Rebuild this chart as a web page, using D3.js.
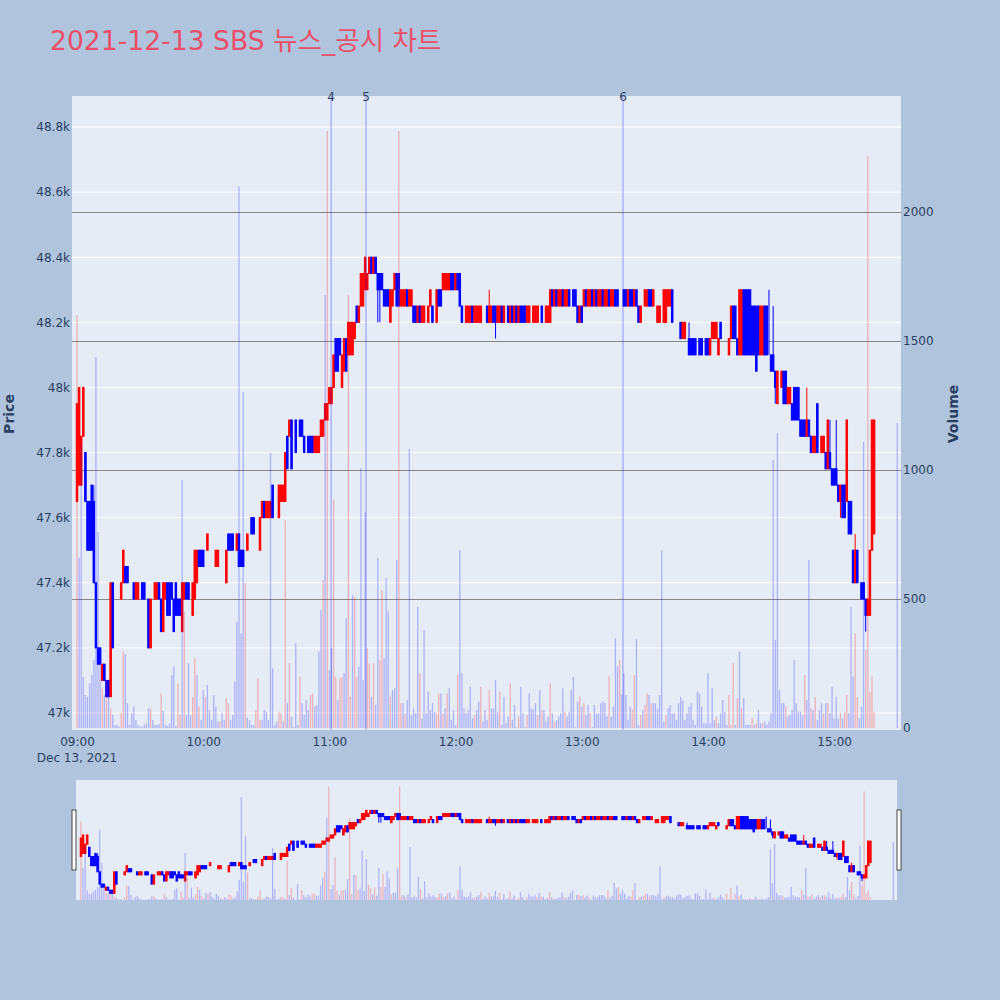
<!DOCTYPE html>
<html><head><meta charset="utf-8">
<script src="https://cdn.jsdelivr.net/npm/d3@7"></script>
<style>body{margin:0;background:#b0c4de;}svg{display:block}</style>
</head><body>
<svg id="chart" width="1000" height="1000"></svg>
<script>
// ---------- DATA (1-minute candles 09:00..15:19, plus 15:30 closing auction) ----------
const sessionDate = "2021-12-13";
const closingAuctionTime = "15:30";
const opens = [
47650,47700,47700,47850,47800,47650,47650,47700,47650,47400,
47200,47200,47100,47150,47100,47100,47050,47400,47300,47300,
47300,47350,47400,47450,47450,47400,47400,47400,47350,47350,
47350,47400,47400,47350,47350,47200,47350,47350,47350,47400,
47350,47250,47350,47400,47400,47400,47350,47400,47350,47350,
47250,47350,47400,47400,47350,47300,47350,47400,47500,47500,
47500,47450,47500,47500,47450,47450,47450,47450,47450,47400,
47400,47400,47550,47550,47550,47500,47500,47550,47500,47500,
47450,47500,47550,47600,47600,47500,47500,47500,47600,47650,
47600,47600,47600,47700,47600,47600,47600,47650,47650,47650,
47850,47850,47900,47850,47900,47850,47900,47900,47850,47850,
47850,47850,47850,47800,47800,47800,47850,47850,47900,47900,
47950,47950,48000,48150,48150,48150,48000,48050,48150,48100,
48100,48100,48150,48250,48200,48250,48250,48300,48300,48350,
48400,48350,48400,48350,48350,48350,48300,48300,48300,48200,
48250,48300,48350,48350,48250,48250,48250,48300,48250,48250,
48250,48250,48200,48250,48200,48200,48250,48200,48250,48250,
48250,48200,48300,48300,48300,48300,48300,48300,48350,48350,
48300,48350,48350,48250,48200,48200,48200,48200,48250,48200,
48200,48200,48200,48250,48250,48250,48200,48200,48250,48250,
48200,48200,48250,48200,48250,48250,48200,48250,48200,48250,
48200,48250,48250,48250,48200,48200,48250,48200,48200,48200,
48250,48250,48250,48200,48200,48200,48300,48250,48300,48250,
48250,48300,48250,48250,48300,48300,48300,48300,48250,48200,
48250,48250,48300,48250,48250,48300,48250,48300,48250,48250,
48300,48250,48250,48300,48250,48250,48300,48300,48300,48350,
48300,48300,48250,48300,48300,48250,48300,48250,48200,48250,
48250,48250,48300,48300,48250,48250,48200,48200,48250,48200,
48200,48250,48250,48300,48200,48200,48200,48200,48150,48150,
48200,48150,48150,48150,48150,48100,48150,48150,48100,48150,
48150,48100,48150,48150,48150,48100,48200,48100,48100,48100,
48100,48150,48250,48250,48150,48100,48100,48300,48300,48300,
48300,48250,48250,48250,48250,48100,48100,48250,48250,48100,
48100,48100,48050,47950,48050,48000,48050,48050,47950,47950,
47950,48000,48000,48000,47900,47900,47900,47850,47900,47850,
47800,47800,47950,47800,47800,47800,47800,47750,47800,47750,
47750,47750,47700,47650,47700,47700,47650,47650,47650,47500,
47400,47500,47400,47400,47400,47350,47300,47300,47500,47550,
47900];
const closes = [
47950,48000,47850,48000,47650,47500,47500,47500,47400,47200,
47150,47150,47150,47100,47050,47050,47400,47200,47300,47300,
47300,47400,47500,47400,47400,47400,47400,47350,47400,47400,
47350,47350,47350,47350,47200,47350,47350,47400,47400,47350,
47250,47400,47400,47300,47300,47350,47250,47300,47300,47300,
47400,47400,47350,47350,47350,47400,47500,47500,47450,47450,
47450,47450,47550,47500,47450,47450,47500,47500,47450,47400,
47400,47500,47500,47500,47500,47500,47550,47450,47450,47450,
47450,47550,47550,47550,47550,47500,47500,47600,47650,47600,
47650,47650,47650,47600,47600,47600,47700,47700,47700,47800,
47750,47900,47750,47850,47800,47850,47850,47850,47800,47850,
47800,47800,47800,47850,47850,47850,47900,47900,47950,47950,
48000,48000,48100,48050,48050,48100,48100,48150,48050,48200,
48200,48200,48200,48200,48250,48350,48350,48400,48350,48400,
48350,48400,48350,48300,48300,48300,48250,48250,48250,48300,
48300,48350,48250,48250,48300,48300,48300,48250,48300,48300,
48200,48200,48250,48200,48250,48250,48250,48250,48300,48200,
48250,48300,48250,48250,48350,48350,48350,48350,48300,48300,
48350,48300,48250,48200,48200,48250,48250,48250,48200,48250,
48250,48250,48250,48250,48250,48200,48250,48250,48200,48200,
48250,48250,48200,48250,48250,48200,48250,48200,48250,48200,
48250,48200,48200,48200,48250,48250,48250,48250,48250,48250,
48250,48200,48250,48250,48250,48300,48250,48300,48250,48300,
48300,48250,48300,48300,48250,48300,48250,48250,48200,48250,
48200,48300,48250,48300,48300,48250,48300,48250,48300,48300,
48250,48300,48300,48250,48300,48300,48250,48250,48300,48350,
48250,48250,48300,48250,48250,48300,48250,48200,48250,48250,
48300,48300,48250,48250,48300,48250,48250,48250,48250,48300,
48300,48300,48300,48200,48200,48200,48200,48150,48200,48200,
48200,48100,48100,48100,48100,48100,48100,48100,48100,48100,
48100,48150,48200,48200,48200,48150,48150,48100,48100,48100,
48150,48250,48150,48150,48100,48300,48300,48100,48100,48100,
48100,48100,48100,48050,48100,48250,48250,48100,48100,48100,
48050,48050,48000,48050,48050,48050,47950,47950,48000,48000,
47900,47900,47900,47900,47850,47850,47850,47900,47850,47800,
47850,47850,47800,47800,47850,47850,47750,47900,47750,47700,
47700,47700,47650,47700,47600,47600,47900,47550,47550,47400,
47500,47400,47400,47350,47350,47300,47350,47500,47900,47900,
47900];
const highs = [
47950,48000,47850,48000,47800,47650,47650,47700,47700,47400,
47200,47200,47150,47150,47100,47100,47400,47400,47300,47300,
47300,47400,47500,47450,47450,47400,47400,47400,47400,47400,
47350,47400,47400,47350,47350,47350,47350,47400,47400,47400,
47350,47400,47400,47400,47400,47400,47350,47400,47350,47350,
47400,47400,47400,47400,47350,47400,47500,47500,47500,47500,
47500,47450,47550,47500,47450,47450,47500,47500,47450,47400,
47400,47500,47550,47550,47550,47500,47550,47550,47500,47500,
47450,47550,47550,47600,47600,47500,47500,47600,47650,47650,
47650,47650,47650,47700,47600,47600,47700,47700,47700,47800,
47850,47900,47900,47850,47900,47850,47900,47900,47850,47850,
47850,47850,47850,47850,47850,47850,47900,47900,47950,47950,
48000,48000,48100,48150,48150,48150,48100,48150,48150,48200,
48200,48200,48200,48250,48250,48350,48350,48400,48350,48400,
48400,48400,48400,48350,48350,48350,48300,48300,48300,48300,
48300,48350,48350,48350,48300,48300,48300,48300,48300,48300,
48250,48250,48250,48250,48250,48250,48250,48250,48300,48250,
48250,48300,48300,48300,48350,48350,48350,48350,48350,48350,
48350,48350,48350,48250,48200,48250,48250,48250,48250,48250,
48250,48250,48250,48250,48250,48250,48300,48250,48250,48250,
48250,48250,48250,48250,48250,48250,48250,48250,48250,48250,
48250,48250,48250,48250,48250,48250,48250,48250,48250,48250,
48250,48250,48250,48250,48250,48300,48300,48300,48300,48300,
48300,48300,48300,48300,48300,48300,48300,48300,48250,48250,
48250,48300,48300,48300,48300,48300,48300,48300,48300,48300,
48300,48300,48300,48300,48300,48300,48300,48300,48300,48350,
48300,48300,48300,48300,48300,48300,48300,48250,48250,48250,
48300,48300,48300,48300,48300,48250,48250,48250,48250,48300,
48300,48300,48300,48300,48200,48200,48200,48200,48200,48200,
48200,48200,48150,48150,48150,48100,48150,48150,48100,48150,
48150,48150,48200,48200,48200,48150,48200,48100,48100,48100,
48150,48250,48250,48250,48150,48300,48300,48300,48300,48300,
48300,48250,48250,48250,48250,48250,48250,48250,48250,48300,
48100,48250,48050,48050,48050,48050,48050,48050,48000,48000,
47950,48000,48000,48000,47900,47900,47900,48000,47900,47850,
47850,47850,47950,47800,47850,47850,47800,47900,47900,47750,
47750,47900,47700,47700,47700,47700,47900,47650,47650,47500,
47550,47500,47400,47400,47400,47350,47350,47500,47900,47900,
47900];
const lows = [
47650,47700,47700,47850,47650,47500,47500,47500,47400,47200,
47150,47150,47100,47100,47050,47050,47050,47200,47300,47300,
47300,47350,47400,47400,47400,47400,47400,47350,47350,47350,
47350,47350,47350,47350,47200,47200,47350,47350,47350,47350,
47250,47250,47350,47300,47300,47350,47250,47300,47300,47300,
47250,47350,47350,47350,47350,47300,47350,47400,47450,47450,
47450,47450,47500,47500,47450,47450,47450,47450,47450,47400,
47400,47400,47500,47500,47500,47500,47500,47450,47450,47450,
47450,47500,47550,47550,47550,47500,47500,47500,47600,47600,
47600,47600,47600,47600,47600,47600,47600,47650,47650,47650,
47750,47850,47750,47850,47800,47850,47850,47850,47800,47850,
47800,47800,47800,47800,47800,47800,47850,47850,47900,47900,
47950,47950,48000,48050,48050,48100,48000,48050,48050,48100,
48100,48100,48150,48200,48200,48250,48250,48300,48300,48350,
48350,48350,48350,48200,48200,48300,48250,48250,48250,48200,
48250,48300,48250,48250,48250,48250,48250,48250,48250,48250,
48200,48200,48200,48200,48200,48200,48250,48200,48250,48200,
48250,48200,48250,48250,48300,48300,48300,48300,48300,48300,
48300,48300,48250,48200,48200,48200,48200,48200,48200,48200,
48200,48200,48200,48250,48250,48200,48200,48200,48200,48150,
48200,48200,48200,48200,48250,48200,48200,48200,48200,48200,
48200,48200,48200,48200,48200,48200,48250,48200,48200,48200,
48250,48200,48250,48200,48200,48200,48250,48250,48250,48250,
48250,48250,48250,48250,48250,48300,48250,48250,48200,48200,
48200,48250,48250,48250,48250,48250,48250,48250,48250,48250,
48250,48250,48250,48250,48250,48250,48250,48250,48300,48350,
48250,48250,48250,48250,48250,48250,48250,48200,48200,48250,
48250,48250,48250,48250,48250,48250,48200,48200,48250,48200,
48200,48250,48250,48200,48200,48200,48200,48150,48150,48150,
48200,48100,48100,48100,48100,48100,48100,48100,48100,48100,
48100,48100,48150,48150,48150,48100,48150,48100,48100,48100,
48100,48150,48150,48150,48100,48100,48100,48100,48100,48100,
48100,48100,48100,48050,48100,48100,48100,48100,48100,48100,
48050,48050,47950,47950,48050,48000,47950,47950,47950,47950,
47900,47900,47900,47900,47850,47850,47850,47850,47850,47800,
47800,47800,47800,47800,47800,47800,47750,47750,47750,47700,
47700,47700,47650,47600,47600,47600,47650,47550,47550,47400,
47400,47400,47400,47350,47350,47250,47300,47300,47500,47550,
47900];
const volumes = [
1600,660,1100,199,128,121,173,205,264,1438,
760,244,154,128,186,160,76,50,12,12,
5,59,296,287,96,12,57,83,31,12,
5,5,12,18,76,76,31,12,12,16,
134,67,12,8,18,205,240,8,173,50,
961,450,50,251,50,121,270,205,83,31,
147,121,167,70,31,128,83,25,25,57,
31,115,96,31,50,180,412,2100,367,1302,
561,40,31,12,12,70,193,31,31,70,
63,31,1066,231,12,25,63,57,25,806,
96,251,44,5,328,12,199,96,50,109,
70,128,134,83,89,296,457,574,1678,2314,
225,309,884,199,109,193,199,212,425,1678,
121,515,509,199,238,1008,186,837,309,251,
121,251,90,659,264,535,270,581,451,121,
147,154,651,2314,96,96,57,109,1081,50,
76,57,470,212,37,380,57,141,70,96,
63,57,134,134,57,76,134,154,31,70,
12,205,690,212,76,57,70,160,37,50,
70,102,160,25,70,31,147,76,76,186,
63,141,12,121,18,44,173,31,89,3,
44,160,57,5,50,134,76,72,96,50,
147,70,70,25,44,173,57,25,31,44,
57,154,63,44,63,147,199,3,102,121,
83,96,50,89,57,3,89,57,57,96,
102,96,44,202,44,83,348,240,264,130,
212,128,31,83,72,205,344,12,50,70,
89,134,128,96,96,96,76,128,690,25,
50,76,89,57,57,31,96,121,109,31,
57,83,96,31,12,141,134,83,18,18,
212,18,154,31,44,18,57,109,63,12,
128,12,251,12,115,296,76,115,12,12,
12,37,12,18,70,18,18,25,12,25,
57,1039,341,1143,147,96,96,83,44,50,
70,264,96,63,63,50,205,109,651,76,
70,121,31,70,96,57,96,96,57,160,
37,121,37,59,37,63,128,57,470,199,
367,120,37,83,1108,302,2217,141,200,63,
1182];
// r = red (buy-side) volume bar, b = blue (sell-side) volume bar
const volumeSide = (
"rbbbbbbbbb"+"bbrbrbrbbb"+"brrbbbbbbb"+"bbbbbrbbbb"+"rbbbbbbbrr"+
"brbbbrrbrb"+"brbbbbbbrb"+"brrbbbbbbb"+"rbbbbrrrbb"+"bbbbbbrrbr"+
"brbbbbrbbb"+"brrbbbbrbr"+"bbrrbrrbbr"+"rbrrbbbbrr"+"brbbrrbbbr"+
"bbbrrbrbbb"+"bbbrbbbbbb"+"brrbrbrbbb"+"brbbbbbbbr"+"bbrbbbrbbb"+
"brbbbbrbbb"+"rbbbrbbbbr"+"brbbbrbrbb"+"bbrbbbbbbr"+"brbbrbbbbb"+
"bbbrbbbbrb"+"bbbbrrbbrb"+"rrbrbbbbbb"+"rbbbbbbbbb"+"bbbbbbbbbb"+
"bbbbrbbbbb"+"rrrbrbrbbb"+"brbrbbrbbb"+"bbbbbbbrbb"+"bbbbbbrbbr"+
"brbbbrbrbb"+"bbbrbrrbbb"+"rrbbbrrrrr"+"b").split("");
const newsTimes = ["11:00:50", "11:17:25", "13:19:35"];
const newsLabels = ["4", "5", "6"];
const priceTicks = [47000,47200,47400,47600,47800,48000,48200,48400,48600,48800];
const volumeTicks = [0,500,1000,1500,2000];
const hourTicks = ["09:00","10:00","11:00","12:00","13:00","14:00","15:00"];
const chartTitle = "2021-12-13 SBS 뉴스_공시 차트";

// ---------- BUILD ----------
const parse = d3.timeParse("%Y-%m-%d %H:%M:%S");
const start = parse(sessionDate + " 09:00:00");
const n = opens.length;
const times = opens.map((_, i) => i < n - 1 ? d3.timeMinute.offset(start, i)
                                           : parse(sessionDate + " " + closingAuctionTime + ":00"));
const rows = opens.map((o, i) => ({t: times[i], o, c: closes[i], h: highs[i], l: lows[i], v: volumes[i], side: volumeSide[i]}));
let prevUp = true;
rows.forEach(r => { r.up = r.c > r.o ? true : (r.c < r.o ? false : prevUp); prevUp = r.up; });

const RED = "#ff0000", BLUE = "#0000ff";
const FONT = "'DejaVu Sans', Verdana, 'Noto Sans CJK KR', sans-serif";
const TXT = "#2a3f5f";

const svg = d3.select("#chart").style("font-family", FONT);
svg.append("rect").attr("width",1000).attr("height",1000).attr("fill","#b0c4de");

const P = {l:72, r:901, t:96, b:730};
const x = d3.scaleTime().domain([parse(sessionDate+" 08:57:37"), parse(sessionDate+" 15:31:47")]).range([P.l, P.r]);
const yP = d3.scaleLinear().domain([47000, 48800]).range([713, 127]);
const yV = d3.scaleLinear().domain([0, 2000]).range([728, 212]);

svg.append("defs").append("clipPath").attr("id","clipMain")
  .append("rect").attr("x",P.l).attr("y",P.t).attr("width",P.r-P.l).attr("height",P.b-P.t);

svg.append("rect").attr("x",P.l).attr("y",P.t).attr("width",P.r-P.l).attr("height",P.b-P.t).attr("fill","#e5ecf6");

svg.append("g").selectAll("line").data(priceTicks).join("line")
  .attr("x1",P.l).attr("x2",P.r).attr("y1",d=>yP(d)).attr("y2",d=>yP(d))
  .attr("stroke","#fff").attr("stroke-width",1);
svg.append("g").selectAll("line").data(volumeTicks.filter(d=>d>0)).join("line")
  .attr("x1",P.l).attr("x2",P.r).attr("y1",d=>Math.round(yV(d))+0.5).attr("y2",d=>Math.round(yV(d))+0.5)
  .attr("stroke","#888").attr("stroke-width",1);

const main = svg.append("g").attr("clip-path","url(#clipMain)");
function drawCandles(g, xs, ys, w, sw) {
  g.selectAll("line.wick").data(rows).join("line").attr("class","wick")
    .attr("x1",d=>xs(d.t)).attr("x2",d=>xs(d.t)).attr("y1",d=>ys(d.h)).attr("y2",d=>ys(d.l))
    .attr("stroke",d=>d.up?RED:BLUE).attr("stroke-width",sw);
  g.selectAll("rect.body").data(rows).join("rect").attr("class","body")
    .attr("x",d=>xs(d.t)-w/2).attr("width",w)
    .attr("y",d=>ys(Math.max(d.o,d.c))).attr("height",d=>Math.abs(ys(d.o)-ys(d.c)))
    .attr("fill",d=>d.up?RED:BLUE).attr("stroke",d=>d.up?RED:BLUE).attr("stroke-width",sw);
}
drawCandles(main.append("g"), x, yP, 1.5, 1);

main.append("g").selectAll("rect").data(rows).join("rect")
  .attr("x",d=>x(d.t)-0.65).attr("width",1.3)
  .attr("y",d=>yV(d.v)).attr("height",d=>yV(0)-yV(d.v))
  .attr("fill",d=>d.side==="r"?"rgba(255,0,0,0.25)":"rgba(0,0,255,0.25)");

const newsG = svg.append("g");
newsTimes.forEach((tm, k) => {
  const xx = x(parse(sessionDate+" "+tm));
  newsG.append("line").attr("x1",xx).attr("x2",xx).attr("y1",P.t).attr("y2",P.b)
    .attr("stroke","rgba(0,0,255,0.25)").attr("stroke-width",1.5);
  newsG.append("text").attr("x",xx).attr("y",101).attr("text-anchor","middle")
    .attr("fill",TXT).attr("font-size",12).text(newsLabels[k]);
});

const yAxisL = svg.append("g").attr("transform",`translate(${P.l},0)`)
  .call(d3.axisLeft(yP).tickValues(priceTicks).tickFormat(d3.format("~s")).tickSize(0).tickPadding(2));
const yAxisR = svg.append("g").attr("transform",`translate(${P.r},0)`)
  .call(d3.axisRight(yV).tickValues(volumeTicks).tickFormat(d3.format("d")).tickSize(0).tickPadding(2));
const xAxis = svg.append("g").attr("transform",`translate(0,${P.b})`)
  .call(d3.axisBottom(x).tickValues(hourTicks.map(h=>parse(sessionDate+" "+h+":00")))
    .tickFormat(d3.timeFormat("%H:%M")).tickSize(0).tickPadding(7));
[yAxisL,yAxisR,xAxis].forEach(a=>{
  a.select(".domain").remove();
  a.selectAll("text").attr("fill",TXT).attr("font-size",12).attr("font-family",FONT);
});
svg.append("text").attr("x",x(start)).attr("y",762).attr("text-anchor","middle")
  .attr("fill",TXT).attr("font-size",12).text(d3.timeFormat("%b %-d, %Y")(start));

svg.append("text").attr("transform","translate(14,414) rotate(-90)").attr("text-anchor","middle")
  .attr("fill",TXT).attr("font-size",14).attr("font-weight","bold").text("Price");
svg.append("text").attr("transform","translate(958,414) rotate(-90)").attr("text-anchor","middle")
  .attr("fill",TXT).attr("font-size",14).attr("font-weight","bold").text("Volume");

svg.append("text").attr("x",50).attr("y",50).attr("fill","#e8506a")
  .attr("font-size",26.6).text(chartTitle);

// ---------- RANGE SLIDER ----------
const S = {l:76, r:897, t:780, b:900};
const xs = x.copy().range([S.l, S.r]);
const ysP = d3.scaleLinear().domain([46941, 48895]).range([S.b, S.t]);
const ysV = d3.scaleLinear().domain([0, 2450]).range([S.b, S.t]);
svg.append("rect").attr("x",S.l).attr("y",S.t).attr("width",S.r-S.l).attr("height",S.b-S.t).attr("fill","#e5ecf6");
const sg = svg.append("g");
drawCandles(sg.append("g"), xs, ysP, 1.5, 1);
sg.append("g").selectAll("rect").data(rows).join("rect")
  .attr("x",d=>xs(d.t)-0.6).attr("width",1.2)
  .attr("y",d=>ysV(d.v)).attr("height",d=>ysV(0)-ysV(d.v))
  .attr("fill",d=>d.side==="r"?"rgba(255,0,0,0.25)":"rgba(0,0,255,0.25)");
[S.l-2, S.r+2].forEach(hx=>{
  svg.append("rect").attr("x",hx-2).attr("y",810).attr("width",4).attr("height",60)
    .attr("fill","#fff").attr("stroke","#444").attr("stroke-width",1);
});

if (![closes,highs,lows,volumes,volumeSide].every(a=>a.length===n)) {
  svg.append("text").attr("x",500).attr("y",960).attr("text-anchor","middle").attr("fill","black")
    .text("len " + [n,closes.length,highs.length,lows.length,volumes.length,volumeSide.length].join(","));
}
</script>
</body></html>
